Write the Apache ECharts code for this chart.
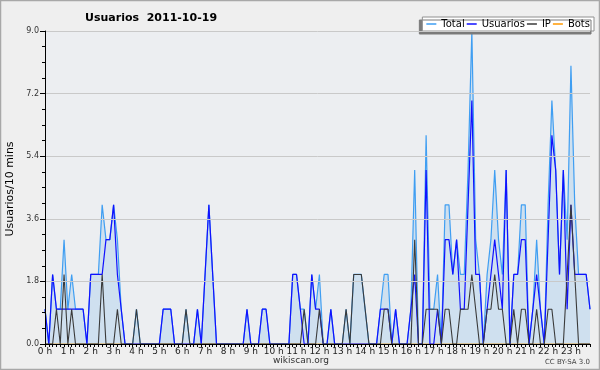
<!DOCTYPE html>
<html>
<head>
<meta charset="utf-8">
<script src="https://cdn.jsdelivr.net/npm/echarts@6/dist/echarts.min.js"></script>
<style>
html,body{margin:0;padding:0;background:#efefef;}
#chart{width:600px;height:370px;}
</style>
</head>
<body>
<div id="chart"></div>
<script>
const hourLabels = ['0 h','1 h','2 h','3 h','4 h','5 h','6 h','7 h','8 h','9 h','10 h','11 h','12 h','13 h','14 h','15 h','16 h','17 h','18 h','19 h','20 h','21 h','22 h','23 h'];
const minuteSlots = ['00','10','20','30','40','50'];

const totalValues = [
 1,0,2,1,1,3,1,2,1,1, 1,0,2,2,2,4,3,3,4,3, 1,0,0,0,1,0,0,0,0,0,
 0,1,1,1,0,0,0,1,0,0, 1,0,2,4,2,0,0,0,0,0, 0,0,0,1,0,0,0,1,1,0,
 0,0,0,0,0,2,2,1,1,0, 2,1,2,0,0,1,0,0,0,1, 0,2,2,2,1,0,0,0,1,2,
 2,0,1,0,0,0,1,5,0,0, 6,1,1,2,0,4,4,2,3,2, 2,5,9,3,2,0,2,3,5,3,
 2,5,0,2,2,4,4,0,1,3, 1,0,4,7,5,2,5,3,8,4, 2,2,2,1
];
const usuariosValues = [
 1,0,2,1,1,1,1,1,1,1, 1,0,2,2,2,2,3,3,4,2, 1,0,0,0,0,0,0,0,0,0,
 0,1,1,1,0,0,0,0,0,0, 1,0,2,4,2,0,0,0,0,0, 0,0,0,1,0,0,0,1,1,0,
 0,0,0,0,0,2,2,1,0,0, 2,1,1,0,0,1,0,0,0,0, 0,0,0,0,0,0,0,0,1,1,
 1,0,1,0,0,0,1,2,0,0, 5,0,0,1,0,3,3,2,3,1, 1,4,7,2,2,0,1,2,3,2,
 1,5,0,2,2,3,3,0,1,2, 1,0,3,6,5,2,5,1,4,2, 2,2,2,1
];
const ipValues = [
 0,0,0,1,0,2,0,1,0,0, 0,0,0,0,0,2,0,0,0,1, 0,0,0,0,1,0,0,0,0,0,
 0,0,0,0,0,0,0,1,0,0, 0,0,0,0,0,0,0,0,0,0, 0,0,0,0,0,0,0,0,0,0,
 0,0,0,0,0,0,0,0,1,0, 0,0,1,0,0,0,0,0,0,1, 0,2,2,2,1,0,0,0,0,1,
 1,0,0,0,0,0,0,3,0,0, 1,1,1,1,0,1,1,0,0,1, 1,1,2,1,0,0,1,1,2,1,
 1,0,0,1,0,1,1,0,0,1, 0,0,1,1,0,0,0,2,4,2, 0,0,0,0
];
const botsValues = [
 0,0,0,0,0,0,0,0,0,0, 0,0,0,0,0,0,0,0,0,0, 0,0,0,0,0,0,0,0,0,0,
 0,0,0,0,0,0,0,0,0,0, 0,0,0,0,0,0,0,0,0,0, 0,0,0,0,0,0,0,0,0,0,
 0,0,0,0,0,0,0,0,0,0, 0,0,0,0,0,0,0,0,0,0, 0,0,0,0,0,0,0,0,0,0,
 0,0,0,0,0,0,0,0,0,0, 0,0,0,0,0,0,0,0,0,0, 0,0,0,0,0,0,0,0,0,0,
 0,0,0,0,0,0,0,0,0,0, 0,0,0,0,0,0,0,0,0,0, 0,0,0,0
];
const yTicks = [0, 1.8, 3.6, 5.4, 7.2, 9.0];

const categories = [];
hourLabels.forEach(function (h, hi) {
  minuteSlots.forEach(function (m) { categories.push(hi + ':' + m); });
});

const FONT = 'DejaVu Sans';
const chart = echarts.init(document.getElementById('chart'), null, {renderer: 'canvas'});
chart.setOption({
  backgroundColor: '#efefef',
  animation: false,
  textStyle: {fontFamily: FONT},
  title: {
    text: 'Usuarios  2011-10-19',
    left: 80, top: 8,
    textStyle: {fontFamily: FONT, fontSize: 11, fontWeight: 'bold', color: '#000'}
  },
  legend: {
    right: 6, top: 17,
    padding: [2, 4, 2, 4],
    itemGap: 2,
    itemWidth: 10, itemHeight: 1.5,
    icon: 'rect',
    backgroundColor: '#ffffff',
    borderColor: '#909090', borderWidth: 1,
    shadowColor: '#7a7a7a', shadowOffsetX: -3, shadowOffsetY: 3, shadowBlur: 0,
    textStyle: {fontFamily: FONT, fontSize: 10, color: '#000'},
    data: ['Total', 'Usuarios', 'IP', 'Bots']
  },
  grid: {left: 45, right: 10, top: 31, bottom: 26, show: true, backgroundColor: '#eceef1', borderWidth: 0},
  xAxis: {
    type: 'category',
    data: categories,
    boundaryGap: false,
    z: 5,
    axisLine: {lineStyle: {color: '#000', width: 1}},
    axisTick: {show: true, interval: 0, length: 3, lineStyle: {color: '#000'}},
    axisLabel: {
      interval: 0,
      formatter: function (v, idx) { return idx % 6 === 0 ? hourLabels[idx / 6] : ''; },
      fontFamily: FONT, fontSize: 9, color: '#222', margin: 3,
      hideOverlap: false
    },
    splitLine: {show: false}
  },
  yAxis: {
    type: 'value',
    min: yTicks[0], max: yTicks[yTicks.length - 1], interval: 1.8,
    z: 5,
    axisLine: {show: true, lineStyle: {color: '#000', width: 1}},
    axisTick: {show: true, length: 5, lineStyle: {color: '#000'}},
    minorTick: {show: true, splitNumber: 4, length: 3, lineStyle: {color: '#000'}},
    axisLabel: {
      formatter: function (v) { return v.toFixed(1); },
      fontFamily: FONT, fontSize: 8, color: '#333', margin: 6
    },
    splitLine: {show: true, lineStyle: {color: '#c9c9c9', width: 1}}
  },
  graphic: [
    {type: 'rect', silent: true, shape: {x: 0.5, y: 0.5, width: 599, height: 369},
     style: {fill: 'none', stroke: '#a8a8a8', lineWidth: 1.5}},
    {type: 'text', x: 10, y: 189, rotation: Math.PI / 2,
     style: {text: 'Usuarios/10 mins', font: '11px "DejaVu Sans"', fill: '#000', textAlign: 'center', textVerticalAlign: 'middle'}},
    {type: 'text', x: 301, y: 361,
     style: {text: 'wikiscan.org', font: '9px "DejaVu Sans"', fill: '#333', textAlign: 'center', textVerticalAlign: 'middle'}},
    {type: 'text', x: 590, y: 362,
     style: {text: 'CC BY-SA 3.0', font: '7px "DejaVu Sans"', fill: '#444', textAlign: 'right', textVerticalAlign: 'middle'}}
  ],
  series: [
    {name: 'Total', type: 'line', data: totalValues, symbol: 'none', z: 2,
     lineStyle: {color: '#3f9ef2', width: 1.2},
     itemStyle: {color: '#3f9ef2'},
     areaStyle: {color: 'rgba(127,187,235,0.38)'}},
    {name: 'Usuarios', type: 'line', data: usuariosValues, symbol: 'none', z: 3,
     lineStyle: {color: '#1010ff', width: 1.2},
     itemStyle: {color: '#1010ff'}},
    {name: 'IP', type: 'line', data: ipValues, symbol: 'none', z: 4,
     lineStyle: {color: '#3a3a3a', width: 1.1},
     itemStyle: {color: '#3a3a3a'}},
    {name: 'Bots', type: 'line', data: botsValues, symbol: 'none', z: 1,
     lineStyle: {color: '#ff9900', width: 1.1},
     itemStyle: {color: '#ff9900'}}
  ]
});
</script>
</body>
</html>
